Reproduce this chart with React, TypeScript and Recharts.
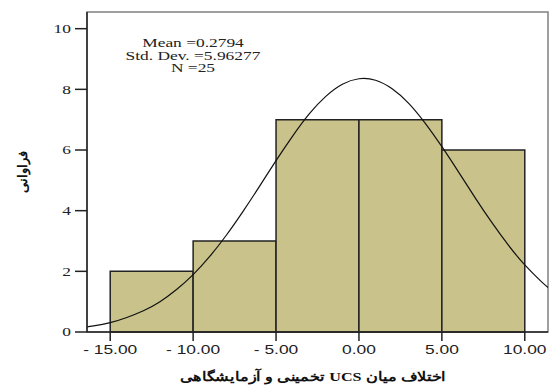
import { ComposedChart, Line, XAxis, YAxis, ReferenceArea, Label } from 'recharts';

// histogram bins (start of each 5-wide bin) and their counts
const binStarts = [-15, -10, -5, 0, 5];
const binCounts = [2, 3, 7, 7, 6];
const binWidth = 5;

// fitted normal curve
const curveX = [-16.4, -16, -15, -14, -13, -12, -11, -10, -9, -8, -7, -6, -5, -4, -3, -2, -1, 0, 1, 2, 3, 4, 5, 6, 7, 8, 9, 10, 11, 11.4];
const curveY = [0.17, 0.2, 0.31, 0.48, 0.7, 1.0, 1.4, 1.89, 2.49, 3.19, 3.97, 4.8, 5.65, 6.46, 7.19, 7.77, 8.17, 8.35, 8.3, 8.02, 7.54, 6.88, 6.11, 5.28, 4.43, 3.62, 2.87, 2.21, 1.66, 1.47];

const xTicks = [-15, -10, -5, 0, 5, 10];
const yTicks = [0, 2, 4, 6, 8, 10];
const statLines = ['Mean =0.2794', 'Std. Dev. =5.96277', 'N =25'];

const X_MIN = -16.4;
const X_MAX = 11.4;
const Y_MAX = 10.55;

// the reference image is stretched sideways, so text is widened to match
const STRETCH = 1.45;
const SERIF = 'Liberation Serif, Times New Roman, serif';
const SANS = 'Liberation Sans, Arial, sans-serif';

const curveData = curveX.map((x, i) => ({ x, y: curveY[i] }));

const fmtX = (v: number) => (v < 0 ? '- ' + Math.abs(v).toFixed(2) : v.toFixed(2));

const XTick = ({ x, y, payload }: any) => (
  <g transform={`translate(${x},${y})`}>
    <text transform={`scale(${STRETCH},1)`} textAnchor="middle" dy="0.71em" fill="#222" fontSize={12} fontFamily={SANS}>
      {fmtX(payload.value)}
    </text>
  </g>
);

const YTick = ({ x, y, payload }: any) => (
  <g transform={`translate(${x},${y})`}>
    <text transform={`scale(${STRETCH},1)`} textAnchor="end" dy="0.355em" fill="#222" fontSize={12} fontFamily={SERIF}>
      {payload.value}
    </text>
  </g>
);

export default function App() {
  return (
    <div style={{ position: 'absolute', left: 0, top: 0, width: 550, height: 387, background: '#fff' }}>
      <ComposedChart width={550} height={387} data={curveData} margin={{ top: 12, right: 2, bottom: 0, left: 0 }}>
        <XAxis
          dataKey="x"
          type="number"
          domain={[X_MIN, X_MAX]}
          ticks={xTicks}
          allowDataOverflow
          height={55}
          tickSize={9}
          tickMargin={4}
          stroke="#222"
          strokeWidth={1.5}
          tick={<XTick />}
        />
        <YAxis
          type="number"
          domain={[0, Y_MAX]}
          ticks={yTicks}
          allowDataOverflow
          width={87}
          tickSize={12}
          tickMargin={4}
          stroke="#222"
          strokeWidth={1.5}
          tick={<YTick />}
        >
          <Label
            value="فراوانی"
            angle={-90}
            position="insideLeft"
            offset={22}
            style={{ fill: '#111', fontSize: 13, fontWeight: 'bold', fontFamily: SERIF, textAnchor: 'middle' }}
          />
        </YAxis>
        <ReferenceArea x1={X_MIN} x2={X_MAX} y1={0} y2={Y_MAX} fill="none" stroke="#808080" strokeWidth={1.5} ifOverflow="visible" />
        {binStarts.map((s, i) => (
          <ReferenceArea
            key={s}
            x1={s}
            x2={s + binWidth}
            y1={0}
            y2={binCounts[i]}
            fill="#c9c28a"
            fillOpacity={1}
            stroke="#222"
            strokeWidth={1.5}
          />
        ))}
        <Line
          dataKey="y"
          type="natural"
          stroke="#111"
          strokeWidth={1.2}
          dot={false}
          activeDot={false}
          isAnimationActive={false}
        />
      </ComposedChart>
      <div
        style={{
          position: 'absolute',
          left: 113,
          top: 37,
          width: 160,
          textAlign: 'center',
          fontFamily: SERIF,
          fontSize: 12,
          lineHeight: '12.5px',
          color: '#222',
          transform: `scaleX(${STRETCH})`,
          transformOrigin: 'center',
        }}
      >
        {statLines.map((t) => (
          <div key={t}>{t}</div>
        ))}
      </div>
      <div
        dir="rtl"
        style={{
          position: 'absolute',
          left: 113,
          top: 369,
          width: 400,
          textAlign: 'center',
          fontFamily: SERIF,
          fontSize: 13,
          fontWeight: 'bold',
          lineHeight: '16px',
          color: '#111',
          transform: 'scaleX(1.24)',
          transformOrigin: 'center',
        }}
      >
        اختلاف میان UCS تخمینی و آزمایشگاهی
      </div>
    </div>
  );
}
